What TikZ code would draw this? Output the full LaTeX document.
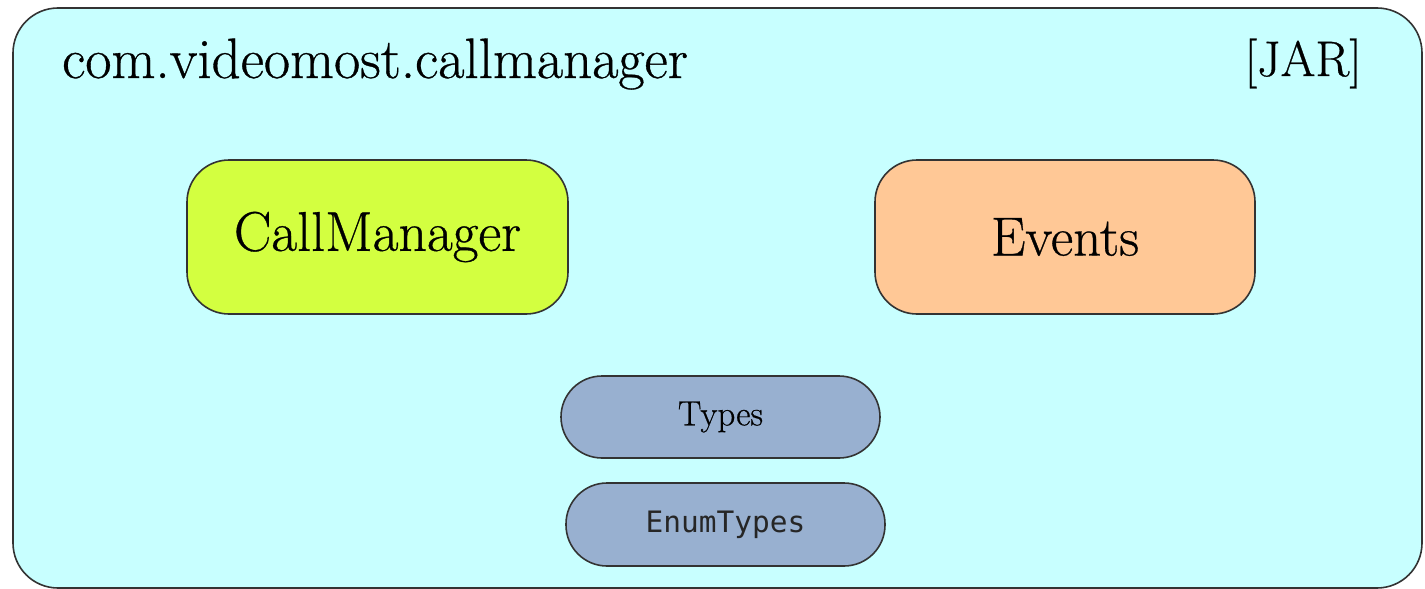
\documentclass[tikz,border=0pt]{standalone}
\usepackage{fontspec}
\setmainfont{Latin Modern Roman}[FakeBold=0.6]
\setmonofont{DejaVu Sans Mono}
\definecolor{jarbg}{HTML}{C8FFFF}
\definecolor{cmfill}{HTML}{D3FF40}
\definecolor{evfill}{HTML}{FFC896}
\definecolor{tyfill}{HTML}{98B0D0}
\begin{document}
\begin{tikzpicture}[x=1pt,y=-1pt,
  box/.style={draw=black!80, line width=1.6pt, rounded corners=42pt, inner sep=0pt},
  pill/.style={draw=black!80, line width=1.6pt, rounded corners=41pt, inner sep=0pt}]
\useasboundingbox (0,0) rectangle (1425,589);
\draw[fill=jarbg, draw=black!80, line width=1.6pt, rounded corners=45pt] (13,8) rectangle (1422,588);
\node[anchor=base west, inner sep=0pt, font=\fontsize{57}{62}\selectfont] (title) at (62,78) {com.videomost.callmanager};
\node[anchor=base east, inner sep=0pt, font=\fontsize{50}{55}\selectfont] (jar) at (1362,76) {[JAR]};
\node[box, fill=cmfill, minimum width=381pt, minimum height=154pt, font=\fontsize{56}{60}\selectfont] (cm) at (377.5,237) {CallManager};
\node[box, fill=evfill, minimum width=380pt, minimum height=154pt, font=\fontsize{55}{60}\selectfont] (ev) at (1065,237) {Events};
\node[pill, fill=tyfill, minimum width=319pt, minimum height=82pt, font=\fontsize{35}{40}\selectfont] (ty) at (720.5,417) {Types};
\node[pill, fill=tyfill, minimum width=319pt, minimum height=83pt, font=\ttfamily\fontsize{29.5}{33}\selectfont, text=black!85] (en) at (725.5,524.5) {EnumTypes};
\end{tikzpicture}
\end{document}
